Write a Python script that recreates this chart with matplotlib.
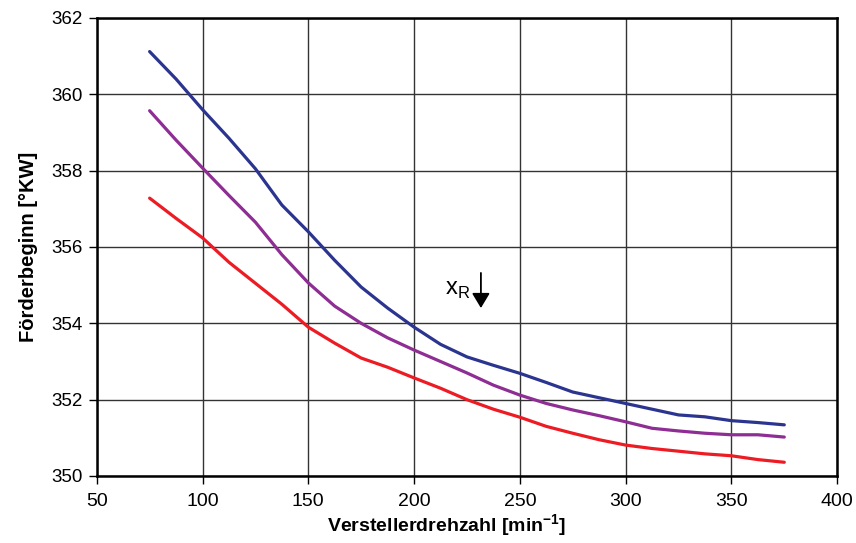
import matplotlib.pyplot as plt
import numpy as np

# Verstellerdrehzahl [1/min]
drehzahl = [75, 87.5, 100, 112.5, 125, 137.5, 150, 162.5, 175, 187.5, 200, 212.5, 225,
            237.5, 250, 262.5, 275, 287.5, 300, 312.5, 325, 337.5, 350, 362.5, 375]

# Förderbeginn [°KW] für drei Betriebszustände
fb_blau = [361.12, 360.40, 359.60, 358.85, 358.05, 357.10, 356.40, 355.65, 354.95, 354.40,
           353.90, 353.45, 353.12, 352.90, 352.69, 352.45, 352.20, 352.05, 351.90, 351.75,
           351.60, 351.55, 351.45, 351.40, 351.34]
fb_lila = [359.57, 358.80, 358.07, 357.35, 356.65, 355.80, 355.06, 354.45, 354.00, 353.62,
           353.30, 353.00, 352.70, 352.38, 352.12, 351.90, 351.73, 351.58, 351.42, 351.25,
           351.18, 351.12, 351.08, 351.08, 351.02]
fb_rot = [357.28, 356.75, 356.24, 355.60, 355.05, 354.50, 353.90, 353.48, 353.09, 352.85,
          352.57, 352.30, 352.00, 351.75, 351.54, 351.30, 351.12, 350.95, 350.81, 350.72,
          350.65, 350.58, 350.53, 350.43, 350.36]

x_ticks = np.arange(50, 401, 50)
y_ticks = np.arange(350, 363, 2)

plt.rcParams['font.family'] = ['Liberation Sans', 'DejaVu Sans']

fig = plt.figure(figsize=(8.56, 5.43), dpi=100)
ax = fig.add_axes([0.113, 0.1234, 0.865, 0.8435])

ax.plot(drehzahl, fb_blau, color='#2b3590', lw=2.3, solid_capstyle='round')
ax.plot(drehzahl, fb_lila, color='#8e2d94', lw=2.3, solid_capstyle='round')
ax.plot(drehzahl, fb_rot, color='#ed1c24', lw=2.3, solid_capstyle='round')

# Markierung x_R mit Pfeil
ax.text(214.5, 354.74, r'x$_\mathregular{R}$', fontsize=17, ha='left', va='baseline')
ax.annotate('', xy=(231.6, 354.40), xytext=(231.6, 355.32),
            arrowprops=dict(arrowstyle='-|>,head_length=0.45,head_width=0.27',
                            color='black', lw=1.3, mutation_scale=20,
                            shrinkA=0, shrinkB=0))

ax.set_xlim(50, 400)
ax.set_ylim(350, 362)
ax.set_xticks(x_ticks)
ax.set_yticks(y_ticks)
ax.grid(True, color='#333333', lw=1.0)
ax.set_axisbelow(True)

for sp in ax.spines.values():
    sp.set_linewidth(1.8)
ax.tick_params(direction='out', length=5.5, width=1)
ax.tick_params(axis='x', labelsize=14, pad=7)
ax.tick_params(axis='y', labelsize=13.5, pad=4.5)

ax.set_xlabel('Verstellerdrehzahl [min$^\mathregular{-1}$]', fontsize=14, fontweight='bold')
ax.xaxis.set_label_coords(0.472, -0.08)
ax.set_ylabel('Förderbeginn [°KW]', fontsize=14.5, fontweight='bold', labelpad=10)

fig.savefig('out.png', dpi=100)
